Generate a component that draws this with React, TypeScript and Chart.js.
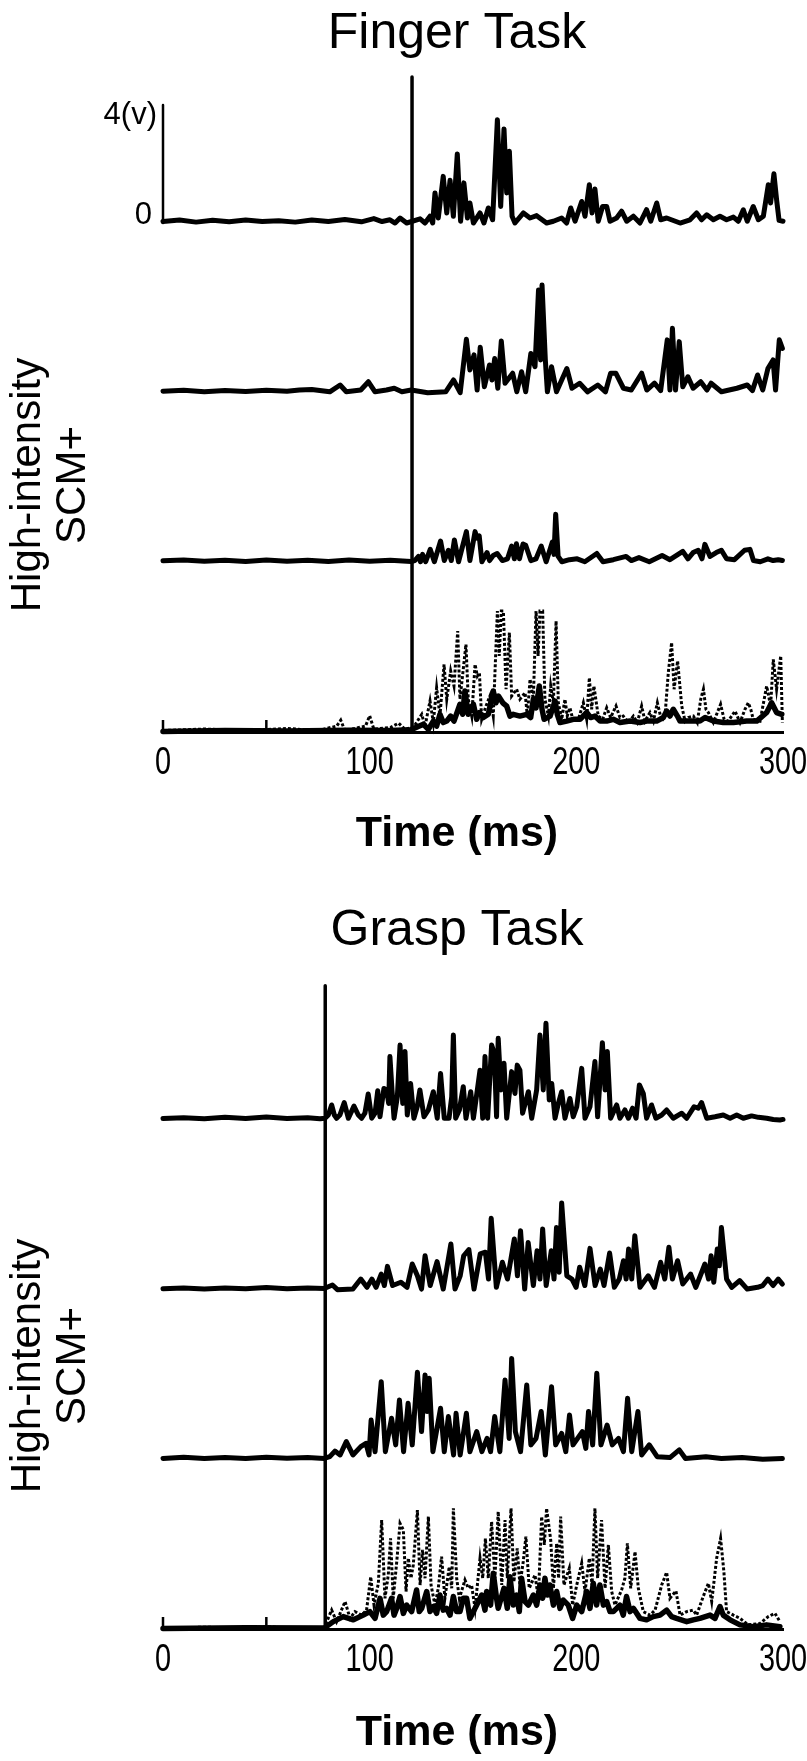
import React, { useEffect, useRef } from 'react';
import { Chart, registerables } from 'chart.js';

Chart.register(...registerables);

type Pt = [number, number];

// ---------- text & scale data ----------
const TITLES = ['Finger Task', 'Grasp Task'];
const X_LABEL = 'Time (ms)';
const Y_LABEL = ['High-intensity', 'SCM+'];
const SCALE_BAR_LABELS = ['4(v)', '0'];
const SCALE_BAR_V = 4;
const TIME_MIN = 0;
const TIME_MAX = 300;
const TIME_TICKS = [0, 100, 200, 300];
const MINOR_TICKS = [0, 50];
const FINGER_ONSET_MS = 120.5;
const GRASP_ONSET_MS = 78.5;

// ---------- Finger task traces: [time ms, volts] ----------
const fingerTrial1: Pt[] = [
  [0,0.05],[8,0.1],[16,0.03],[24,0.09],[32,0.04],[40,0.1],[48,0.05],[56,0.08],[64,0.03],[72,0.1],[80,0.05],[88,0.12],[96,0.04],[102,0.15],[106,0.05],
  [109.8,0.11],[112.3,0],[114.7,0.17],[117.9,0],[124.4,0.14],[126.8,0],[129.2,0.23],[130.5,0],[131.6,1.02],[133.2,0.17],[135.6,1.58],[137.3,0.34],[138.9,1.45],[140.5,0.23],[142.4,2.34],[144,0.06],[145.6,1.36],[147.3,0.17],[148.5,0.68],[150.2,0],[153.4,0.34],[155.3,0],[157.4,0.51],[159.5,0.11],[161.8,3.5],[163.4,0.56],[165,3.19],[166.3,1.02],[167.6,2.43],[168.9,0.23],[170.3,0],[174.4,0.34],[177.6,0.17],[180.8,0.25],[185.6,0],[188.9,0.06],[192.9,0.17],[195.3,0],[197.3,0.51],[199.4,0.06],[202.6,0.73],[204.2,0.23],[206.3,1.3],[207.6,0.34],[209,1.15],[210.6,0.06],[212.7,0.56],[214.7,0.56],[216.3,0.06],[219.5,0.17],[221.9,0.4],[224.4,0.06],[227.6,0.23],[230.8,0],[234,0.45],[236,0.06],[238.9,0.68],[240.8,0.11],[243.7,0.17],[250.2,0],[255,0.11],[258.2,0.34],[260.6,0.11],[263.1,0.28],[266.3,0.11],[269.5,0.23],[272.7,0.11],[276,0.2],[278.4,0.06],[280.8,0.45],[282.7,0.06],[285.6,0.56],[288.1,0.11],[290.5,0.23],[292.9,1.3],[294,0.68],[295.6,1.67],[296.9,0.79],[298.1,0.09],[300,0.06],
];
const fingerTrial2: Pt[] = [
  [0,0.05],[10,0.08],[20,0.03],[30,0.07],[40,0.04],[50,0.08],[60,0.05],[66,0.09],[72,0.11],[80.7,0.03],[85.7,0.26],[88.7,0.03],[95.7,0.09],[99.4,0.37],[102.6,0.03],[108.1,0.09],[111.9,0.15],[115.6,0.03],[120.1,0.09],[128.1,0],[136.8,0.03],[140.6,0.43],[143.8,0],[146.8,1.81],[148.5,0.77],[150.5,1.28],[152,0.09],[153.5,1.54],[155.5,0.2],[158,0.94],[159.2,0.43],[160.5,1.16],[162,0.15],[163.7,1.75],[165.5,0.32],[169.2,0.66],[171.2,0.03],[173.5,0.71],[175.5,0.03],[178,1.33],[180,0.88],[181.7,3.48],[182.7,1.11],[183.4,3.65],[185,1.11],[186,0.03],[188,0.88],[190.4,0.03],[195.4,0.82],[197.9,0.15],[201.6,0.32],[205.4,0.03],[210.4,0.26],[214.1,0.03],[216.6,0.66],[219.1,0.66],[222.8,0.15],[226.6,0.09],[231.6,0.66],[234.1,0.09],[237.8,0.32],[240.8,0.07],[244,1.79],[245.3,0.09],[246.5,2.18],[248,0.09],[249.8,1.73],[251.5,0.2],[254,0.54],[256.5,0.15],[260.2,0.37],[263.2,0.09],[265.2,0.32],[270.2,0.03],[277.7,0.15],[282.7,0.26],[285.2,0.07],[287.7,0.6],[290.2,0.09],[292.7,0.82],[295.2,1.11],[296.4,0.09],[298.2,1.79],[299.7,1.5],
];
const fingerTrial3: Pt[] = [
  [0,0.05],[10,0.08],[20,0.04],[30,0.07],[40,0.03],[50,0.08],[60,0.04],[70,0.07],[80,0.03],[90,0.08],[100,0.04],[110,0.07],[118,0.04],
  [120.1,0.03],[121.8,0.06],[123.6,0.2],[124.6,0.02],[125.6,0.27],[127.1,0.02],[129.3,0.44],[131.3,0.02],[134.3,0.72],[136.1,0.06],[138.1,0.41],[139.5,0.06],[141,0.76],[143,0.02],[146.8,1.04],[148.5,0.06],[151,1.04],[152,0.82],[153,0.9],[154.3,0.02],[156.8,0.33],[158,0.06],[159.8,0.23],[161.7,0.3],[164.2,0.06],[166.7,0.12],[168.7,0.55],[170,0.12],[171,0.63],[172.5,0.12],[174.2,0.62],[175.5,0.58],[178,0.06],[180.5,0.12],[183,0.55],[185.4,0.02],[188.4,0.69],[189.2,0.27],[190,1.63],[191.2,0.2],[193,0.02],[196.7,0.09],[200.4,0.12],[204.1,0.02],[209.9,0.3],[212.9,0.02],[217.9,0.09],[224.1,0.2],[226.6,0.06],[230.3,0.16],[235.3,0.02],[241.5,0.23],[245.3,0.09],[251.5,0.37],[254,0.12],[256.5,0.33],[259,0.41],[260.8,0.12],[262.2,0.61],[264.7,0.2],[267.7,0.33],[270.2,0.41],[272.7,0.12],[276.5,0.09],[281.4,0.41],[284,0.44],[285.7,0.06],[289,0.02],[292.7,0.12],[295.2,0.06],[297.7,0.09],[299.7,0.06],
];
const fingerOverlayTrials: Pt[] = [
  [0,0.05],[20,0.1],[40,0.05],[60,0.12],[75,0.05],[84,0.2],[86,0.4],[88,0.05],[98,0.2],[100,0.55],[102,0.1],[110,0.15],[114,0.3],[117,0.1],
  [121.1,0.15],[125.2,0.6],[126.8,0.2],[129.2,1.05],[130.8,0.32],[132.4,1.5],[134,0.54],[136,2.29],[137.3,1.11],[139.2,2.07],[140.8,1.56],[142.6,3.42],[143.7,1.11],[146.6,2.97],[147.7,1.11],[149.4,0.54],[151,2.29],[152.1,1.9],[153.1,2.01],[154.2,0.43],[156.3,0.88],[158.2,1.22],[159.8,0.54],[161.8,4.1],[162.7,2.58],[163.7,4.1],[164.7,4.1],[166,1.45],[167.6,3.37],[168.7,1.22],[171.1,1.45],[172.7,1.11],[175.2,1.33],[176.3,0.54],[177.6,1.79],[179.2,1.11],[180.5,4.1],[181.5,2.58],[182.4,4.1],[183.7,4.1],[184.8,1.11],[186.5,0.54],[187.6,1.56],[188.9,0.99],[190.2,3.76],[191.3,0.99],[192.9,0.43],[194.5,1.11],[195.6,0.54],[196.9,0.82],[198.5,0.37],[201,0.43],[203.4,0.99],[205,0.43],[206.3,1.84],[207.4,0.77],[208.5,1.56],[210.6,0.54],[212.7,0.43],[214.7,0.82],[216.6,0.49],[219.2,0.88],[221.1,0.49],[222.7,0.54],[225.2,0.32],[227.6,0.54],[229.5,0.32],[231.6,0.88],[233.2,0.37],[235.6,0.66],[237.3,0.37],[239.2,0.99],[241.3,0.37],[242.9,0.54],[244.5,2.01],[246.1,3.03],[247.3,1.45],[249,2.41],[251,0.88],[252.6,0.37],[254.2,0.49],[256.6,0.54],[258.5,0.32],[260.2,1.11],[261.5,1.45],[262.7,0.77],[263.9,0.66],[266.3,0.32],[269.8,0.94],[271.5,0.43],[273.5,0.37],[276.8,0.71],[279.2,0.32],[281.6,0.77],[283.2,0.99],[284.4,0.77],[285.6,0.43],[288.9,0.37],[292.1,1.56],[294,0.88],[295.3,2.46],[296.9,1.45],[298.9,2.58],[299.7,0.32],
];
const fingerOverlayMean: Pt[] = [
  [0,0.02],[30,0.05],[60,0.03],[90,0.06],[110,0.05],[120,0.08],
  [126,0.26],[128.4,0.09],[130.8,0.37],[132.4,0.2],[134,0.6],[135.6,0.32],[137.3,0.37],[139.2,0.54],[140.8,0.37],[143.7,0.94],[145,0.6],[146.1,1.39],[147.7,0.6],[150.2,0.94],[151.8,0.43],[153.1,0.66],[155,0.49],[157.4,0.6],[159.8,1.39],[161.1,0.99],[162.3,1.22],[164.4,0.99],[166.3,0.88],[167.9,0.54],[169.5,0.6],[172.7,0.54],[176,0.6],[177.9,0.49],[179.2,1.11],[180.5,0.82],[182.1,1.56],[183.4,0.77],[184.4,0.43],[187.3,0.54],[189.7,1.05],[190.8,0.6],[192.1,0.32],[195.3,0.37],[198.5,0.43],[201.8,0.43],[205,0.66],[206.9,0.49],[209,0.54],[211.5,0.37],[214.7,0.37],[217.9,0.43],[221.1,0.32],[226,0.37],[230.8,0.32],[234,0.37],[238.9,0.37],[242.1,0.49],[243.7,0.71],[245.3,0.54],[246.9,0.77],[248.9,0.54],[250.2,0.37],[255,0.37],[259.8,0.37],[262.3,0.49],[266.3,0.37],[271.1,0.32],[276,0.32],[282.4,0.37],[287.3,0.37],[292.1,0.66],[294.5,0.99],[296.9,0.66],[299.4,0.6],
];

// ---------- Grasp task traces: [time ms, volts] ----------
const graspTrial1: Pt[] = [
  [0,0.05],[10,0.08],[20,0.04],[30,0.09],[40,0.05],[50,0.1],[60,0.05],[70,0.08],[76,0.04],
  [78.4,0.06],[80,0.17],[81.6,0.51],[82.9,0.17],[84,0.06],[85.6,0.17],[87.7,0.59],[89.7,0.06],[92.4,0.47],[94.5,0.17],[96.1,0.06],[97.7,0.23],[99.3,0.88],[101,0.06],[102.6,0.23],[103.9,0.99],[105,0.11],[106.9,1.07],[108.2,1.02],[109.2,0.56],[109.8,2.15],[110.8,1.02],[111.8,0.06],[113.4,0.79],[114.7,2.54],[116,0.56],[117.1,2.32],[118.2,0.17],[119.8,1.24],[121.4,0.06],[123,0.45],[124.3,1.02],[126.3,0.11],[128.4,0.34],[130.8,0.96],[132.7,0.06],[134.3,1.58],[136.1,0.06],[138.4,0.06],[139.7,0.79],[140.5,2.88],[141.6,0.06],[143.4,0.34],[145.3,1.13],[146.6,0.06],[148.9,0.96],[150.2,0.06],[152.1,1.02],[153.4,1.69],[154.7,0.06],[155.8,2.15],[157.1,0.06],[159,2.54],[160.3,2.26],[161.4,0.11],[162.2,2.77],[163.5,1.02],[165,1.92],[166.3,0.06],[168.7,1.64],[170.3,0.9],[171.4,1.86],[172.7,1.69],[174,0.23],[176.8,0.96],[178.4,0.06],[180.8,1.02],[182.4,2.88],[184,1.02],[185.3,3.28],[186.9,0.68],[188.1,1.24],[189.7,0.06],[191.3,0.56],[192.9,0.96],[194.5,0.06],[196.9,0.73],[198.5,0.11],[200.2,0.45],[202.6,1.75],[204.2,0.06],[206.6,0.45],[209,1.98],[210.3,0.11],[212.6,2.62],[213.9,1.02],[215,2.32],[216.6,0.06],[219.5,0.51],[221.1,0.06],[223.5,0.34],[225.2,0.06],[227.2,0.4],[228.9,0.06],[230.5,1.19],[232.4,0.9],[234,0.06],[236.4,0.51],[238.5,0.06],[241.3,0.17],[243.7,0.34],[246.9,0.06],[251,0.23],[253.4,0.06],[257,0.45],[259,0.4],[260.6,0.59],[263.1,0.06],[267.1,0.11],[271.1,0.17],[274.4,0.06],[277.6,0.17],[280.8,0.06],[284.8,0.14],[288.1,0.09],[292.1,0.06],[295.3,0.02],[298.5,0],[300,0.02],
];
const graspTrial2: Pt[] = [
  [0,0.03],[10,0.06],[20,0.02],[30,0.06],[40,0.03],[50,0.07],[60,0.03],[70,0.06],[78,0.04],
  [82,0.16],[84.4,0],[91.9,0.02],[95.7,0.36],[98.7,0.08],[101.1,0.36],[103.1,0.08],[105.6,0.53],[107.1,0.14],[108.6,0.79],[111.1,0.14],[115.1,0.25],[118.1,0.08],[120.6,0.87],[123.1,0.47],[125.1,0.02],[126.8,1.15],[129.3,0.14],[132.6,0.95],[135.6,0.02],[139.3,1.55],[141.3,0.02],[143.8,0.47],[145.5,1.15],[148,1.36],[150.5,0.02],[153.5,1.21],[156,1.27],[157.5,0.36],[158.8,2.42],[161.3,0.08],[164.2,0.93],[166.7,0.36],[170,1.72],[171.5,0.47],[173,2.0],[175,0.02],[176.7,1.6],[179.2,0.14],[181,1.32],[182.4,0.36],[183.7,2.06],[185.4,0.14],[187.9,1.32],[189.2,0.36],[190.4,2.11],[191.7,0.59],[192.9,2.94],[195.4,0.47],[197.9,0.36],[199.9,0.08],[201.6,0.76],[204.1,0.14],[206.6,1.4],[209.1,0.14],[211.6,0.7],[213.4,0.14],[216.1,1.24],[218.4,0.08],[220.8,0.36],[222.8,0.98],[224.1,0.36],[225.3,1.38],[226.8,0.36],[228.3,1.83],[230.8,0.08],[234.8,0.47],[237.8,0.08],[240.8,0.93],[242.8,0.36],[244.8,1.44],[246.5,0.36],[249,0.98],[251.5,0.19],[255.3,0.53],[257.8,0.08],[262.2,0.87],[264,0.36],[265.2,1.15],[266.5,0.25],[268.2,1.38],[269.2,0.81],[270.2,2.11],[272.7,0.36],[275.2,0.08],[279,0.31],[282.7,0.02],[287.7,0.08],[290.2,0.14],[292.7,0.36],[295.2,0.14],[297.7,0.36],[299.7,0.19],
];
const graspTrial3: Pt[] = [
  [0,0.03],[10,0.07],[20,0.03],[30,0.06],[40,0.03],[50,0.07],[60,0.04],[70,0.06],[78,0.03],
  [80.7,0.09],[83.2,0.28],[85.7,0.15],[88.7,0.6],[91.9,0.15],[95.7,0.43],[98.2,0.54],[99.7,0.15],[100.7,1.33],[102.6,0.26],[105.6,2.63],[107.6,0.26],[110.6,1.39],[112.6,0.49],[114.4,2.01],[116.4,0.26],[118.6,1.9],[120.6,0.49],[123.1,2.95],[125.1,0.94],[126.8,2.86],[127.8,1.62],[128.8,2.75],[130.6,0.26],[134.3,1.73],[136.1,0.26],[138.1,1.45],[140.6,0.15],[141.8,1.56],[143.8,0.15],[146.8,1.56],[148.5,0.26],[151.8,0.94],[154.3,0.26],[156.8,0.71],[158.5,0.26],[160.5,1.45],[163,0.26],[165.5,2.69],[167.5,0.71],[168.7,3.42],[170.5,0.94],[173,0.26],[176,2.52],[178,0.49],[180.5,0.71],[183,1.62],[185,0.15],[188,2.46],[190,0.49],[192.9,0.88],[194.9,0.26],[196.7,1.5],[198.4,0.49],[202.9,0.94],[204.6,0.37],[205.9,1.62],[207.9,0.49],[209.9,2.92],[211.9,0.49],[214.9,1.16],[217.4,0.49],[220.4,0.71],[222.8,0.26],[224.8,2.07],[226.8,0.26],[229.8,1.62],[231.6,0.15],[235.3,0.49],[239.1,0.09],[245.3,0.06],[249.8,0.32],[252.8,0.03],[262.7,0.09],[270.2,0.03],[280.2,0.06],[290.2,0],[299.7,0.03],
];
const graspOverlayTrials: Pt[] = [
  [0,0.03],[20,0.06],[40,0.03],[50,0.08],[60,0.03],[78,0.05],
  [81.6,0.64],[84,0.25],[88.1,0.93],[90.5,0.36],[92.9,0.59],[96.1,0.47],[98.5,0.64],[100.5,1.77],[102.1,0.81],[104.2,1.55],[105.8,3.69],[107.4,1.04],[109,1.83],[110.1,3.07],[111.4,1.04],[113.1,2.28],[114.7,3.58],[116.3,3.36],[117.6,1.27],[118.7,2.4],[120,1.72],[121.1,2.17],[123.1,4.03],[124.4,1.49],[125.6,2.68],[126.8,1.72],[128.4,3.81],[129.7,1.49],[131.6,0.81],[133.2,1.38],[134.8,2.45],[136.4,1.04],[138.5,2.11],[139.7,1.38],[140.5,4.09],[142.1,1.72],[143.4,1.04],[146.1,1.66],[147.7,1.38],[149.3,1.49],[151,0.7],[153.4,2.4],[154.7,1.72],[156,3.07],[157.4,1.72],[159,3.64],[160.6,1.72],[162.2,3.98],[163.9,1.49],[165.5,3.69],[166.6,1.72],[168.4,4.09],[169.8,1.6],[171.4,2.73],[172.7,1.49],[174.3,2.28],[175.6,3.13],[177.2,1.38],[180,1.83],[181.6,1.04],[183.2,3.81],[184.5,2.85],[185.6,4.09],[187.6,3.02],[188.9,1.38],[190.5,2.9],[191.4,1.72],[192.4,3.81],[194,1.49],[196.6,2.06],[198.2,0.81],[200.2,1.49],[202.6,2.23],[204.2,1.27],[206.3,2.4],[207.6,1.49],[209,4.09],[210.3,1.72],[212.2,3.69],[213.9,1.38],[215.5,2.85],[217.1,1.27],[218.7,0.81],[221.9,1.32],[223.5,1.72],[224.7,2.9],[226.3,1.38],[228.4,2.62],[230,1.38],[232.4,0.59],[235.6,0.47],[238.1,0.64],[241.3,1.49],[243.7,1.92],[245.3,1.04],[248.2,1.29],[250.2,0.47],[253.4,0.59],[256.6,0.64],[258.2,0.47],[261.4,1.1],[263.9,1.55],[265.5,0.93],[267.9,2.4],[269.8,3.07],[271.4,1.94],[272.7,0.59],[276,0.47],[279.2,0.36],[283.2,0.14],[288.9,0.19],[292.9,0.42],[296.1,0.53],[298.5,0.25],
];
const graspOverlayMean: Pt[] = [
  [0,0.02],[40,0.04],[78,0.03],
  [82.4,0.25],[87.2,0.42],[92.1,0.31],[96.9,0.47],[100.1,0.59],[102.6,0.36],[105,1.04],[106.6,0.47],[108.2,0.59],[110.6,1.04],[111.8,0.47],[113.1,0.7],[114.7,1.1],[116.3,0.53],[117.9,0.81],[120.3,0.59],[122.7,1.32],[124,0.59],[125.2,0.7],[127.6,1.27],[129.2,0.59],[130.8,0.76],[132.4,0.53],[134,1.15],[135.6,0.64],[137.2,0.7],[138.9,0.47],[140.5,1.1],[142.1,0.59],[143.7,0.59],[145.3,1.04],[146.9,1.04],[148.5,0.36],[150.2,0.59],[151.8,0.81],[154.2,1.15],[155.8,0.64],[156.6,1.27],[158.5,0.81],[159.8,1.89],[161.4,1.04],[162.2,0.7],[165,1.38],[166.6,0.7],[167.9,1.77],[169.5,0.81],[171.1,1.15],[172.4,0.59],[173.5,1.72],[175.2,0.93],[176.8,0.81],[179.2,1.15],[180.8,0.81],[182.4,1.49],[183.7,1.04],[184.8,1.72],[186,1.15],[187.2,1.49],[188.9,0.81],[190.5,1.27],[192.1,0.7],[193.7,0.98],[196.1,0.81],[198.2,0.36],[200.2,0.81],[202.6,0.59],[205,1.27],[206.6,0.7],[208.2,1.55],[209.8,0.81],[211.4,1.49],[213.1,0.81],[214.7,0.93],[216.3,0.59],[217.9,0.59],[221.1,0.81],[222.7,0.47],[224.3,1.1],[226,0.59],[227.6,0.7],[230.8,0.36],[234,0.31],[237.2,0.42],[240.5,0.47],[243.7,0.64],[246.1,0.42],[248.5,0.36],[253.4,0.25],[256.6,0.31],[259.8,0.36],[264.7,0.47],[267.1,0.36],[269.5,0.76],[271.1,0.47],[274.4,0.31],[279.2,0.14],[285.6,0.08],[292.1,0.14],[298.5,0.08],
];

// ---------- styling / layout constants ----------
const SANS = '"Liberation Sans", Arial, Helvetica, sans-serif';
const TRACE_GAP_V = 5.75;
const Y_TOP_V = 22.3;
const TEXT_CENTER_X = 457;

const panelText = {
  id: 'panelText',
  afterDraw(chart: any, _args: any, opts: any) {
    const { ctx, chartArea, scales } = chart;
    const xs = scales.x;
    const ys = scales.y;
    ctx.save();
    ctx.strokeStyle = '#000';
    ctx.lineWidth = 2.5;
    for (const t of MINOR_TICKS) {
      const px = xs.getPixelForValue(t);
      ctx.beginPath();
      ctx.moveTo(px, chartArea.bottom);
      ctx.lineTo(px, chartArea.bottom - 12);
      ctx.stroke();
    }
    ctx.fillStyle = '#000';
    ctx.textAlign = 'center';
    ctx.textBaseline = 'middle';
    ctx.font = `50px ${SANS}`;
    ctx.fillText(opts.title, TEXT_CENTER_X, opts.titleY);
    ctx.font = `38px ${SANS}`;
    for (const v of TIME_TICKS) {
      const px = xs.getPixelForValue(v);
      ctx.save();
      ctx.translate(px, chartArea.bottom + 32);
      ctx.scale(0.76, 1);
      ctx.fillText(String(v), 0, 0);
      ctx.restore();
    }
    ctx.font = `bold 43px ${SANS}`;
    ctx.fillText(X_LABEL, TEXT_CENTER_X, opts.xLabelY);
    ctx.font = `42px ${SANS}`;
    Y_LABEL.forEach((line, i) => {
      ctx.save();
      ctx.translate(opts.yLabelX[i], opts.yLabelY);
      ctx.rotate(-Math.PI / 2);
      ctx.fillText(line, 0, 0);
      ctx.restore();
    });
    if (opts.scaleBarBase != null) {
      ctx.font = `31px ${SANS}`;
      ctx.textAlign = 'right';
      const topPx = ys.getPixelForValue(opts.scaleBarBase + SCALE_BAR_V);
      const basePx = ys.getPixelForValue(opts.scaleBarBase);
      ctx.fillText(SCALE_BAR_LABELS[0], chartArea.left - 6, topPx + 10);
      ctx.fillText(SCALE_BAR_LABELS[1], chartArea.left - 11, basePx - 8);
    }
    ctx.restore();
  },
};

function lineSet(data: Pt[], offset: number, width: number, dash?: number[]) {
  return {
    type: 'line',
    data: data.map(([t, v]) => ({ x: t, y: v + offset })),
    borderColor: '#000',
    borderWidth: width,
    borderDash: dash || [],
    borderJoinStyle: dash ? 'miter' : 'round',
    borderCapStyle: dash ? 'butt' : 'round',
    pointRadius: 0,
    tension: 0,
    fill: false,
    clip: false,
  };
}

interface PanelProps {
  title: string;
  onset: number;
  onsetTop: number;
  trials: Pt[][];
  overlayMean: Pt[];
  overlayTrials: Pt[];
  scaleBar: boolean;
  height: number;
  plotTop: number;
  axisHeight: number;
  titleY: number;
  xLabelY: number;
  yLabelY: number;
}

function Panel(p: PanelProps) {
  const ref = useRef<HTMLCanvasElement>(null);
  useEffect(() => {
    if (!ref.current) return;
    const n = p.trials.length;
    const datasets: any[] = [];
    p.trials.forEach((tr, i) => datasets.push(lineSet(tr, (n - i) * TRACE_GAP_V, 5)));
    datasets.push(lineSet(p.overlayMean, 0, 5.5));
    datasets.push(lineSet(p.overlayTrials, 0, 3, [3, 2]));
    datasets.push(lineSet([[p.onset, 0], [p.onset, p.onsetTop]], 0, 3.5));
    if (p.scaleBar) {
      datasets.push(lineSet([[TIME_MIN, n * TRACE_GAP_V], [TIME_MIN, n * TRACE_GAP_V + SCALE_BAR_V]], 0, 2.5));
    }
    const chart = new Chart(ref.current, {
      type: 'line',
      data: { datasets },
      plugins: [panelText],
      options: {
        animation: false,
        responsive: false,
        events: [],
        layout: { padding: { left: 163, right: 24, top: p.plotTop, bottom: 0 } },
        plugins: {
          legend: { display: false },
          tooltip: { enabled: false },
          title: { display: false },
          panelText: {
            title: p.title,
            titleY: p.titleY,
            xLabelY: p.xLabelY,
            yLabelX: [28, 73],
            yLabelY: p.yLabelY,
            scaleBarBase: p.scaleBar ? n * TRACE_GAP_V : null,
          },
        } as any,
        scales: {
          x: {
            type: 'linear',
            min: TIME_MIN,
            max: TIME_MAX,
            afterFit: (s: any) => { s.height = p.axisHeight; },
            border: { display: true, color: '#000', width: 3 },
            grid: { display: false, drawTicks: false },
            ticks: { display: false },
            title: { display: false },
          },
          y: { type: 'linear', display: false, min: 0, max: Y_TOP_V },
        },
      } as any,
    });
    return () => chart.destroy();
  }, []);
  return (
    <canvas
      ref={ref}
      width={807}
      height={p.height}
      style={{ display: 'block', width: 807, height: p.height }}
    />
  );
}

export default function App() {
  return (
    <div style={{ position: 'absolute', left: 0, top: 0, width: 807, height: 1761, background: '#fff' }}>
      <Panel
        title={TITLES[0]}
        onset={FINGER_ONSET_MS}
        onsetTop={22.2}
        trials={[fingerTrial1, fingerTrial2, fingerTrial3]}
        overlayMean={fingerOverlayMean}
        overlayTrials={fingerOverlayTrials}
        scaleBar={true}
        height={880}
        plotTop={74}
        axisHeight={148}
        titleY={34}
        xLabelY={834}
        yLabelY={485}
      />
      <Panel
        title={TITLES[1]}
        onset={GRASP_ONSET_MS}
        onsetTop={21.8}
        trials={[graspTrial1, graspTrial2, graspTrial3]}
        overlayMean={graspOverlayMean}
        overlayTrials={graspOverlayTrials}
        scaleBar={false}
        height={881}
        plotTop={91}
        axisHeight={132}
        titleY={51}
        xLabelY={853}
        yLabelY={486}
      />
    </div>
  );
}
